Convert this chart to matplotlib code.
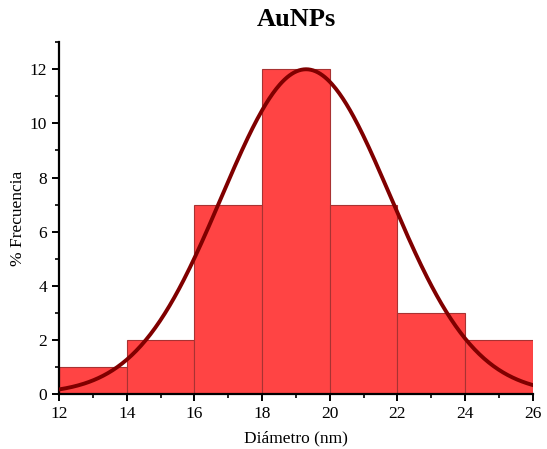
import numpy as np
import matplotlib
matplotlib.use("Agg")
import matplotlib.pyplot as plt
from matplotlib.ticker import MultipleLocator

bin_edges = [12, 14, 16, 18, 20, 22, 24, 26]
frequency = [1, 2, 7, 12, 7, 3, 2]
fit_mean = 19.3
fit_sigma = 2.5
fit_peak = 12.0

plt.rcParams['font.family'] = ['Liberation Serif', 'DejaVu Serif']

fig = plt.figure(figsize=(5.47, 4.49), dpi=100)
ax = fig.add_axes([0.108, 0.1225, 0.866, 0.7835])

lefts = bin_edges[:-1]
widths = np.diff(bin_edges)
ax.bar(lefts, frequency, width=widths, align='edge', color='#FF4444',
       edgecolor='#A83232', linewidth=0.8, zorder=2)

xs = np.linspace(bin_edges[0], bin_edges[-1], 400)
ys = fit_peak * np.exp(-(xs - fit_mean) ** 2 / (2 * fit_sigma ** 2))
ax.plot(xs, ys, color='#800000', linewidth=2.8, zorder=3)

ax.set_xlim(12, 26)
ax.set_ylim(0, 13)
ax.xaxis.set_major_locator(MultipleLocator(2))
ax.xaxis.set_minor_locator(MultipleLocator(1))
ax.yaxis.set_major_locator(MultipleLocator(2))
ax.yaxis.set_minor_locator(MultipleLocator(1))
for s in ['top', 'right']:
    ax.spines[s].set_visible(False)
for s in ['left', 'bottom']:
    ax.spines[s].set_linewidth(1.6)
ax.tick_params(which='major', direction='out', length=5, width=1.4, labelsize=12.5)
ax.tick_params(which='minor', direction='out', length=3, width=1.2)

ax.set_xlabel('Diámetro (nm)', fontsize=12.5, labelpad=6)
ax.set_ylabel('% Frecuencia', fontsize=12.5, labelpad=3)
ax.set_title('AuNPs', fontsize=19, fontweight='bold', pad=12)

fig.savefig('out.png', dpi=100)
